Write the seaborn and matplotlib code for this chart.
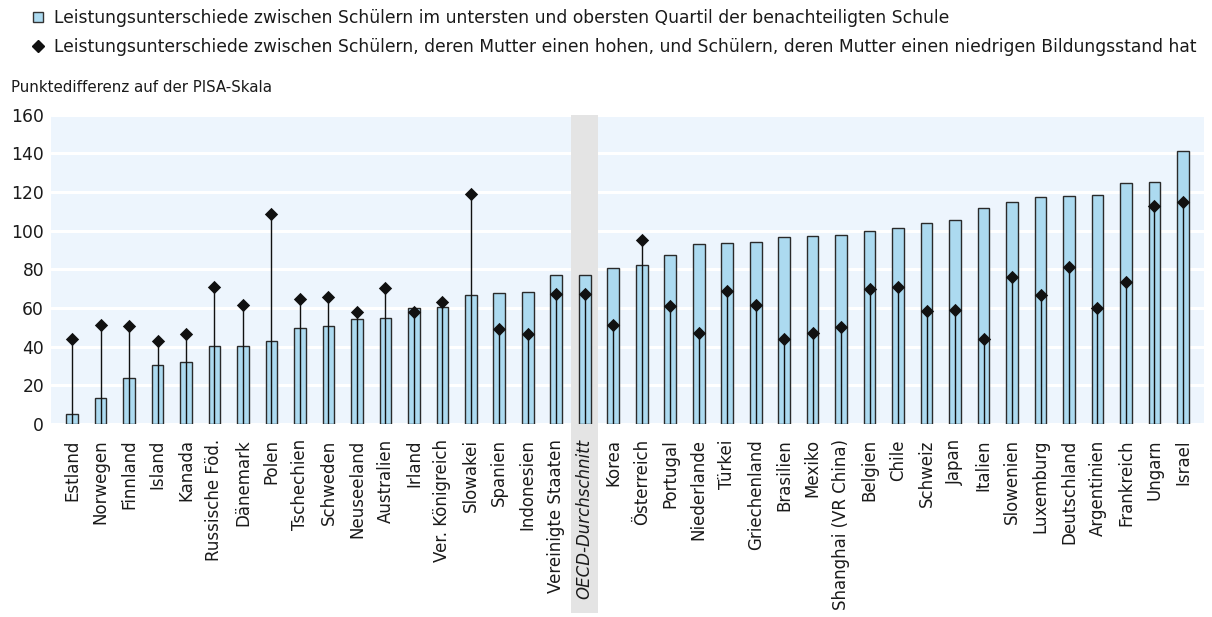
import matplotlib
matplotlib.use("Agg")
import matplotlib.pyplot as plt
from matplotlib.patches import Patch, Rectangle
from matplotlib.lines import Line2D
import seaborn as sns
import pandas as pd

countries = ["Estland", "Norwegen", "Finnland", "Island", "Kanada", "Russische Föd.",
             "Dänemark", "Polen", "Tschechien", "Schweden", "Neuseeland", "Australien",
             "Irland", "Ver. Königreich", "Slowakei", "Spanien", "Indonesien",
             "Vereinigte Staaten", "OECD-Durchschnitt", "Korea", "Österreich", "Portugal",
             "Niederlande", "Türkei", "Griechenland", "Brasilien", "Mexiko",
             "Shanghai (VR China)", "Belgien", "Chile", "Schweiz", "Japan", "Italien",
             "Slowenien", "Luxemburg", "Deutschland", "Argentinien", "Frankreich",
             "Ungarn", "Israel"]

quartile_gap = [5, 13.5, 24, 30.5, 32, 40.5, 40.5, 43, 49.5, 50.5, 54.5, 55, 60,
                60.5, 66.5, 67.5, 68, 77, 77, 80.5, 82, 87.5, 93, 93.5, 94, 96.5,
                97, 97.7, 99.7, 101.5, 103.7, 105.4, 111.8, 114.9, 117.6, 117.8,
                118.5, 124.4, 124.9, 141]

mother_gap = [44, 51, 50.5, 43, 46.5, 71, 61.5, 108.5, 64.8, 65.6, 58, 70.5, 58,
              63, 119, 49, 46.5, 67, 67, 51, 95.3, 61, 47, 68.5, 61.5, 44, 47,
              50, 70, 71, 58.5, 58.7, 44, 76, 66.5, 81, 60, 73.5, 112.8, 115]

avg_label = "OECD-Durchschnitt"

legend_bar = "Leistungsunterschiede zwischen Schülern im untersten und obersten Quartil der benachteiligten Schule"
legend_dot = "Leistungsunterschiede zwischen Schülern, deren Mutter einen hohen, und Schülern, deren Mutter einen niedrigen Bildungsstand hat"
y_title = "Punktedifferenz auf der PISA-Skala"
y_ticks = [0, 20, 40, 60, 80, 100, 120, 140, 160]

df = pd.DataFrame({"country": countries, "quartile": quartile_gap, "mother": mother_gap})

sns.set_theme(style="white")
plt.rcParams["font.family"] = ["DejaVu Sans"]

W, H, DPI = 1212, 617, 100
fig = plt.figure(figsize=(W / DPI, H / DPI), dpi=DPI)
left, right, top, bottom = 51, 1204, 114.5, 424
ax = fig.add_axes([left / W, 1 - bottom / H, (right - left) / W, (bottom - top) / H])

bg = "#edf5fd"
bar_fc = "#acdaf0"
ink = "#1a1a1a"
ax.set_facecolor(bg)

sns.barplot(data=df, x="country", y="quartile", order=countries, ax=ax,
            color=bar_fc, width=0.41, edgecolor="#2a2a2a", linewidth=1.0,
            saturation=1, zorder=3, errorbar=None)

xs = list(range(len(countries)))
ax.vlines(xs, 0, df["mother"], color="#111111", linewidth=1.0, zorder=4)
sns.scatterplot(x=xs, y=df["mother"], ax=ax, marker="D", s=46, color="#111111",
                edgecolor="#111111", linewidth=0, zorder=5)

# OECD highlight band (extends into the label area)
oi = countries.index(avg_label)
band = Rectangle((oi - 0.47, 0), 0.94, 1, transform=ax.get_xaxis_transform(),
                 facecolor="#e4e4e4", edgecolor="none", zorder=1, clip_on=False)
ax.add_patch(band)
band_low = Rectangle((oi - 0.47, -0.612), 0.94, 0.612,
                     transform=ax.get_xaxis_transform(),
                     facecolor="#e4e4e4", edgecolor="none", zorder=0, clip_on=False)
ax.add_patch(band_low)

ax.set_xlim(-0.74, len(countries) - 1 + 0.74)
ax.set_ylim(0, 160)
ax.set_yticks(y_ticks)
ax.set_yticklabels([str(t) for t in y_ticks], fontsize=12.3, color=ink)
ax.yaxis.grid(True, color="white", linewidth=2.2, zorder=2)
ax.set_axisbelow(True)
for s in ax.spines.values():
    s.set_visible(False)
ax.tick_params(axis="both", length=0)
ax.tick_params(axis="y", pad=5)
ax.tick_params(axis="x", pad=11)
ax.set_xlabel("")
ax.set_ylabel("")
ax.set_xticks(xs)
ax.set_xticklabels(countries, rotation=90, fontsize=12, color=ink)
for lbl in ax.get_xticklabels():
    if lbl.get_text() == avg_label:
        lbl.set_fontstyle("italic")

fig.text(11 / W, 1 - 87 / H, y_title, fontsize=10.8, color=ink, va="center", ha="left")

handles = [Patch(facecolor=bar_fc, edgecolor="#333333", linewidth=1.0),
           Line2D([], [], marker="D", color="#111111", linestyle="none", markersize=6.5)]
fig.legend(handles, [legend_bar, legend_dot], loc="upper left",
           bbox_to_anchor=(33 / W, 1 - 9 / H), frameon=False, fontsize=12.3,
           handlelength=0.6, handleheight=0.6, handletextpad=0.6, labelspacing=0.62,
           borderaxespad=0, borderpad=0, labelcolor=ink)

fig.savefig("out.png", dpi=DPI, facecolor="white")
